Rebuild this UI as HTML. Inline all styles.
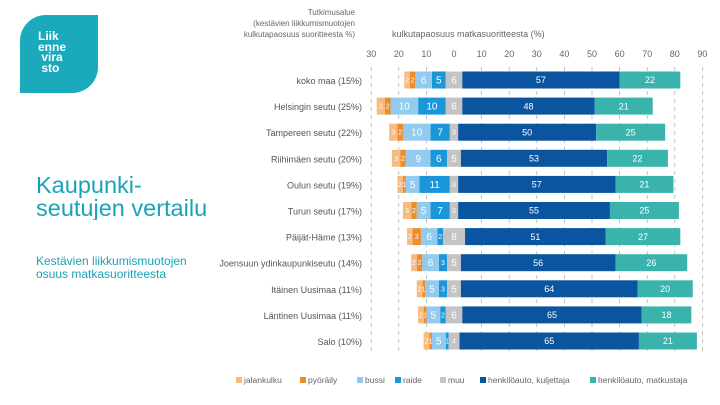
<!DOCTYPE html>
<html><head><meta charset="utf-8">
<style>
body{margin:0;width:720px;height:405px;background:#fff;position:relative;overflow:hidden;font-family:"Liberation Sans",sans-serif}
#logo{position:absolute;left:20px;top:15px;width:78px;height:78px;background:#1ba9bc;border-radius:26px 0 26px 0;color:#fff;font-size:12px;line-height:10.5px;font-weight:bold}
#title{position:absolute;left:36px;top:174px;width:171px;overflow:hidden;white-space:nowrap;color:#1aa3b8;font-size:23.5px;line-height:23px}
#sub{position:absolute;left:36px;top:255px;color:#1aa3b8;font-size:12px;line-height:12.5px}
svg{position:absolute;left:0;top:0}
</style></head><body>
<div id="logo"><div style="position:absolute;left:18px;top:16px">Liik<br>enne<br>&nbsp;vira<br>&nbsp;sto</div></div>
<div id="title">Kaupunki-<br>seutujen vertailu</div>
<div id="sub">Kestävien liikkumismuotojen<br>osuus matkasuoritteesta</div>
<svg id="chart" width="720" height="405"></svg>
<script>
const regions=["koko maa (15%)","Helsingin seutu (25%)","Tampereen seutu (22%)","Riihimäen seutu (20%)","Oulun seutu (19%)","Turun seutu (17%)","Päijät-Häme (13%)","Joensuun ydinkaupunkiseutu (14%)","Itäinen Uusimaa (11%)","Läntinen Uusimaa (11%)","Salo (10%)"];
const jalankulku=[2,3,3,3,2,3,2,2,2,2,2];
const pyoraily=[2,2,2,2,1,2,3,2,1,1,1];
const bussi=[6,10,10,9,5,5,6,6,5,5,5];
const raide=[5,10,7,6,11,7,2,3,3,2,1];
const muu=[6,6,3,5,3,3,8,5,5,6,4];
const kuljettaja=[57,48,50,53,57,55,51,56,64,65,65];
const matkustaja=[22,21,25,22,21,25,27,26,20,18,21];
const ticks=[30,20,10,0,10,20,30,40,50,60,70,80,90];
const tickVals=[-30,-20,-10,0,10,20,30,40,50,60,70,80,90];
const legendLabels=["jalankulku","pyöräily","bussi","raide","muu","henkilöauto, kuljettaja","henkilöauto, matkustaja"];
const colors=["#f5bb80","#ee8c2c","#92cbee","#1a96d9","#c4c4c4","#0b55a0","#3bb3ad"];
const NS="http://www.w3.org/2000/svg";
const svg=document.getElementById('chart');
const x=v=>454+v*2.76;
const y=i=>80+i*26.1;
function mk(t,a,p){const e=document.createElementNS(NS,t);for(const k in a)e.setAttribute(k,a[k]);(p||svg).appendChild(e);return e;}
function txt(s,a){const e=mk('text',a);e.textContent=s;return e;}
mk('rect',{x:208,y:0,width:512,height:405,fill:'#fff'});
[["Tutkimusalue",15],["(kestävien liikkumismuotojen",26],["kulkutapaosuus suoritteesta %)",37]].forEach(([s,yy])=>{const t=txt(s,{x:355,y:yy,'text-anchor':'end','font-size':8,fill:'#666'});});
const at=txt("kulkutapaosuus matkasuoritteesta (%)",{x:392,y:37,'font-size':9,fill:'#666'});

tickVals.forEach((v,i)=>{
 const t=txt(ticks[i],{x:x(v),y:57,'text-anchor':'middle','font-size':9,fill:'#666'});
 
 if(v!==0){const l=mk('line',{x1:x(v),x2:x(v),y1:67,y2:355,stroke:'#aaa','stroke-width':0.7,'stroke-dasharray':'4,4'});
 }
});
const series=[jalankulku,pyoraily,bussi,raide,muu,kuljettaja,matkustaja];
regions.forEach((r,i)=>{
 const cy=y(i),h=17;
 const lab=txt(r,{x:362,y:cy+4,'text-anchor':'end','font-size':9,fill:'#555'});
 
 const m=muu[i];
 const segs=[];
 let left=-m/2;
 [3,2,1,0].forEach(s=>{segs.push([s,left-series[s][i],left]);left-=series[s][i];});
 segs.push([4,-m/2,m/2]);
 let right=m/2;
 [5,6].forEach(s=>{segs.push([s,right,right+series[s][i]]);right+=series[s][i];});
 segs.forEach(([s,a,b])=>{
  const rc=mk('rect',{x:x(a),y:cy-h/2,width:x(b)-x(a),height:h,fill:colors[s]});
  
  
  const v=series[s][i];
  const fs=(s>=5)?9:(v>=5?10:7);
  const t=txt(v,{x:(x(a)+x(b))/2,y:cy+fs*0.35,'text-anchor':'middle','font-size':fs,fill:'#fff'});
  
 });
});
const lx=[236,300,357,395,440,480,590];
legendLabels.forEach((l,i)=>{
 const g=mk('g',{});
 
 mk('rect',{x:lx[i],y:377,width:6,height:6,fill:colors[i]},g);
 const t=mk('text',{x:lx[i]+8,y:383,'font-size':8.5,fill:'#666'},g);t.textContent=l;
});
</script>
</body></html>
